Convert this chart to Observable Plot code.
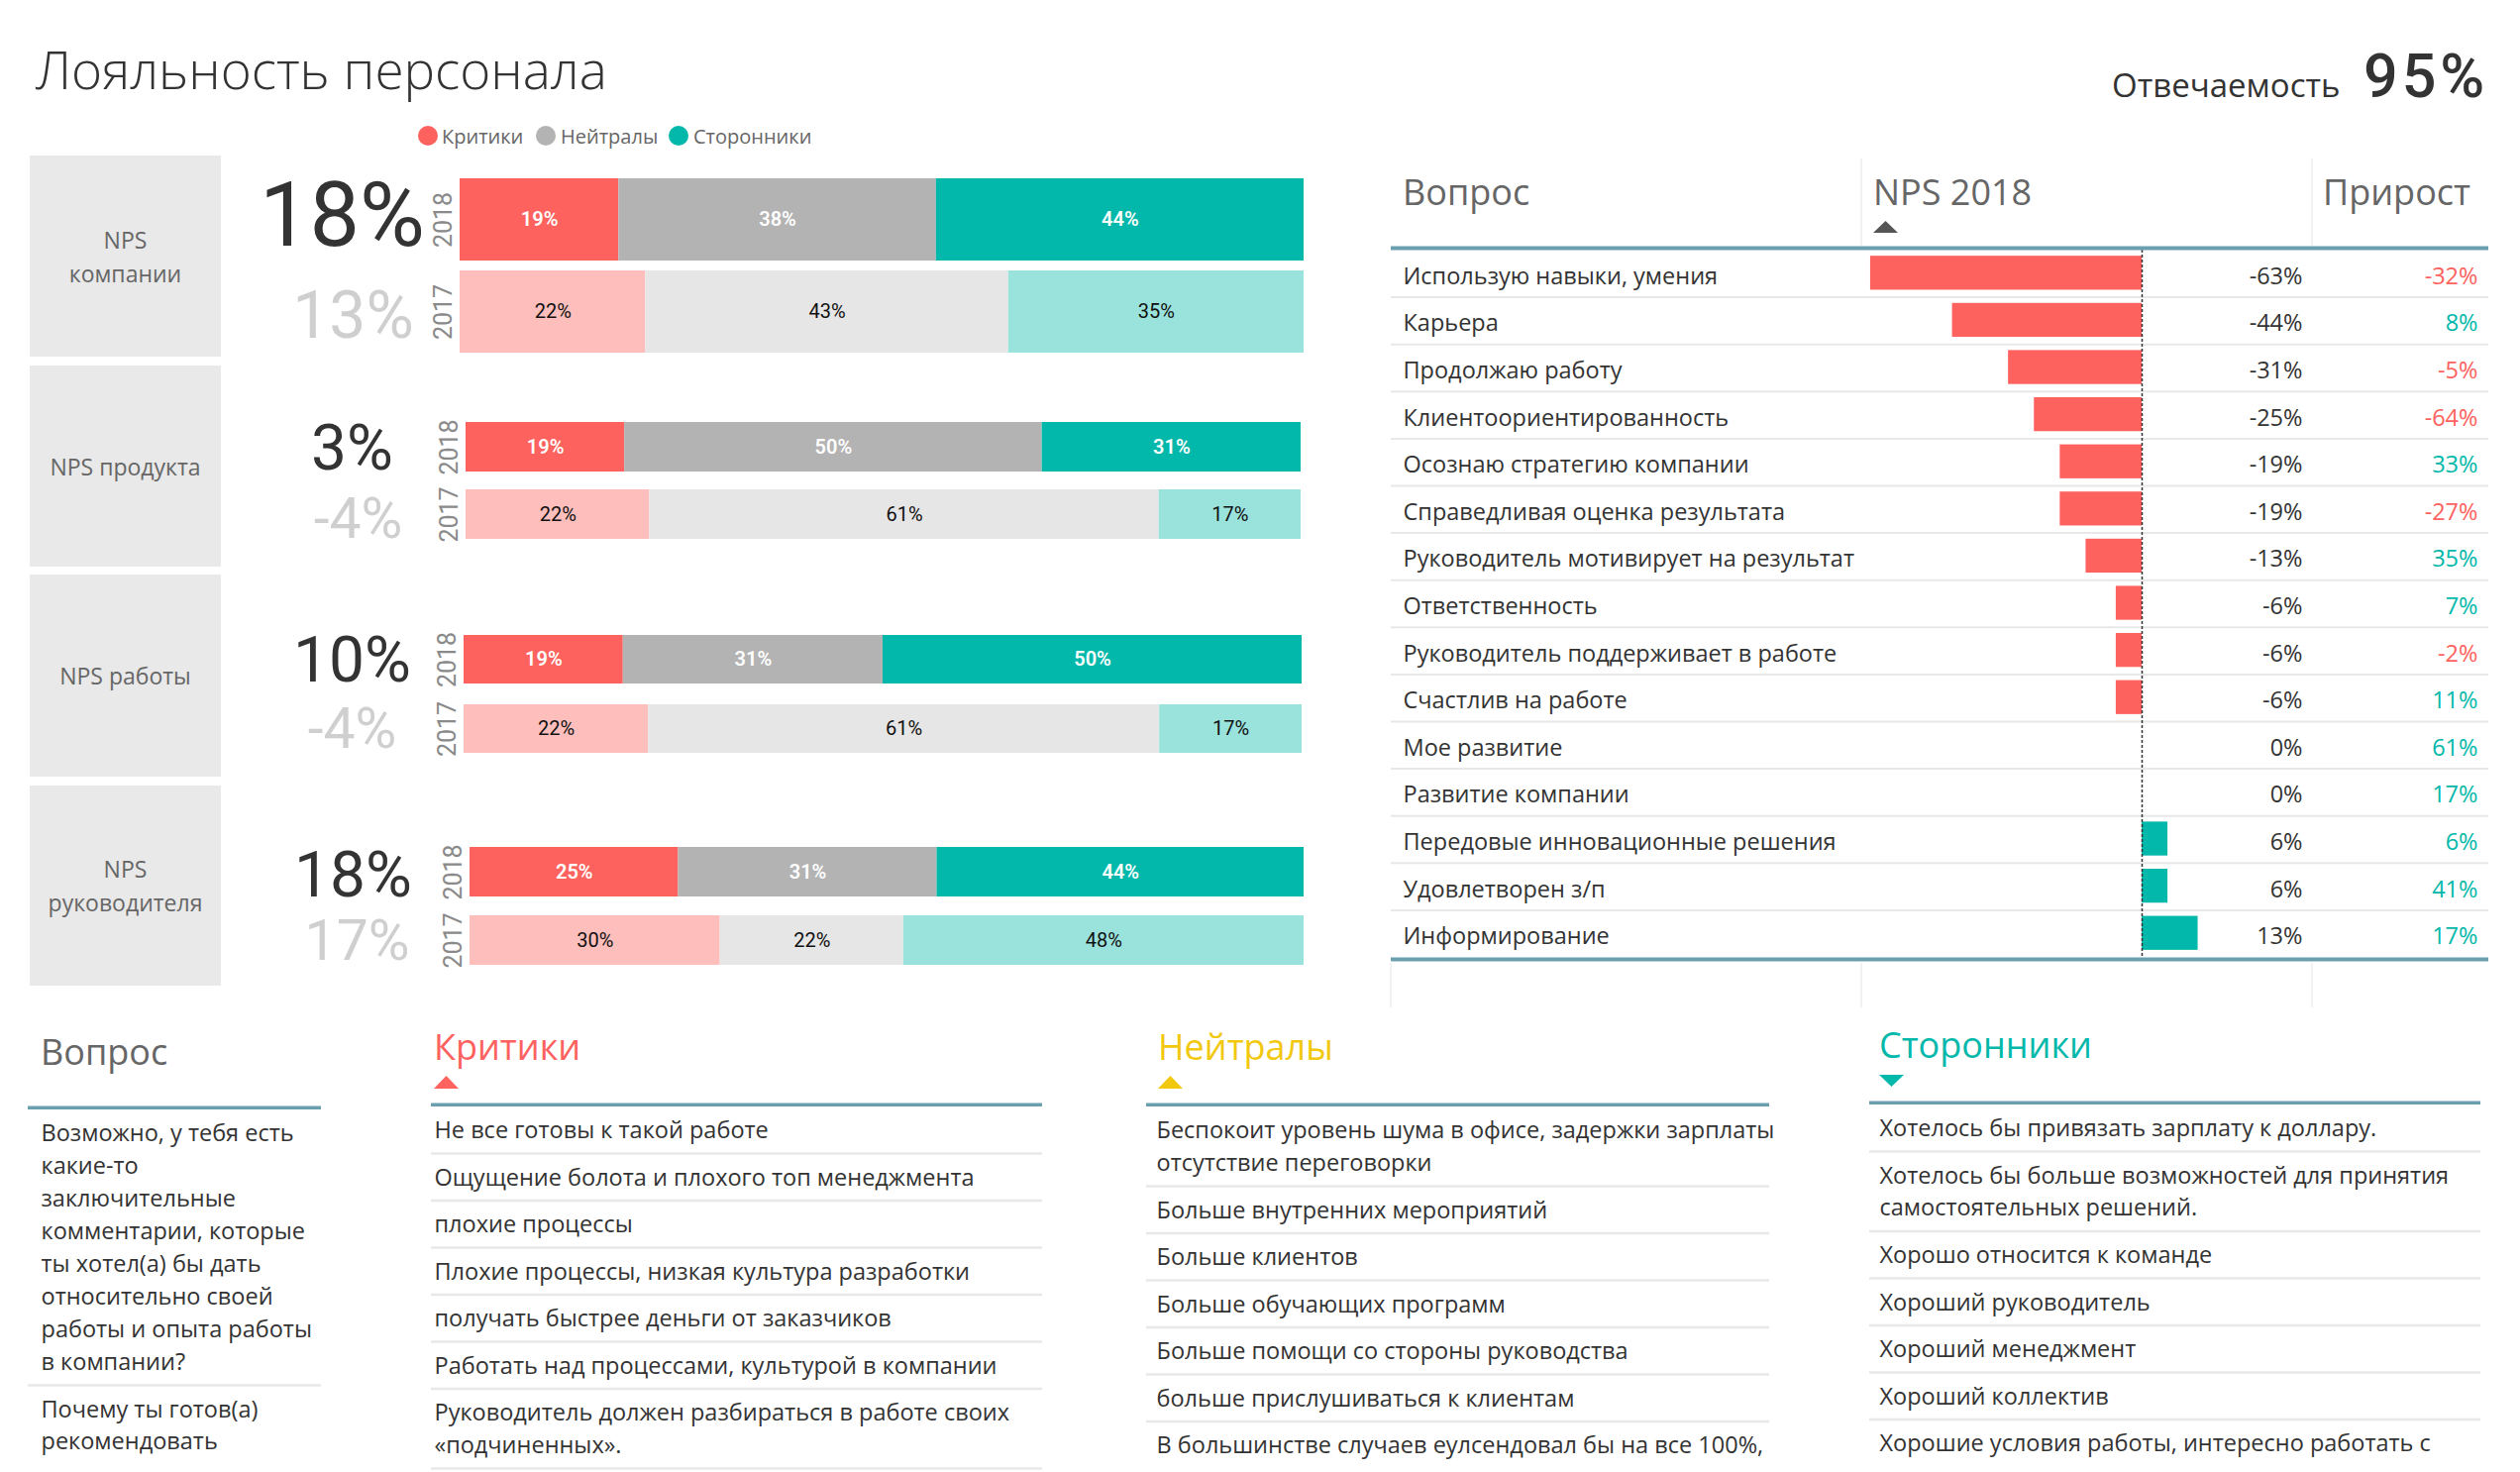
<!DOCTYPE html>
<html>
<head>
<meta charset="utf-8">
<script src="https://cdn.jsdelivr.net/npm/d3@7"></script>
<script src="https://cdn.jsdelivr.net/npm/@observablehq/plot@0.6"></script>
<style>
html, body { margin: 0; padding: 0; background: #fff; }
#page { position: relative; width: 2544px; height: 1486px; overflow: hidden; font-family: "Open Sans", sans-serif; }
.box { position: absolute; background: #e9e9e9; display: flex; align-items: center; justify-content: center; text-align: center; color: #666; font-size: 23px; line-height: 34px; white-space: pre; }
</style>
</head>
<body>
<div id="page"></div>
<script>
// ---------------- DATA ----------------
const pageTitle = "Лояльность персонала";
const responseLabel = "Отвечаемость";
const responseRate = 95;

const years = ["2018", "2017"];
const segments = ["Критики", "Нейтралы", "Сторонники"];
const colors2018 = ["#FD625E", "#B3B3B3", "#01B8AA"];
const colors2017 = ["#FEBEBC", "#E6E6E6", "#9AE3DC"];

const npsGroups = ["NPS\nкомпании", "NPS продукта", "NPS работы", "NPS\nруководителя"];
const npsTotal2018 = [18, 3, 10, 18];
const npsTotal2017 = [13, -4, -4, 17];
const shares2018 = [[19, 38, 44], [19, 50, 31], [19, 31, 50], [25, 31, 44]];
const shares2017 = [[22, 43, 35], [22, 61, 17], [22, 61, 17], [30, 22, 48]];

const tableHeaders = ["Вопрос", "NPS 2018", "Прирост"];
const questions = [
  "Использую навыки, умения", "Карьера", "Продолжаю работу", "Клиентоориентированность",
  "Осознаю стратегию компании", "Справедливая оценка результата", "Руководитель мотивирует на результат",
  "Ответственность", "Руководитель поддерживает в работе", "Счастлив на работе", "Мое развитие",
  "Развитие компании", "Передовые инновационные решения", "Удовлетворен з/п", "Информирование"
];
const npsByQuestion2018 = [-63, -44, -31, -25, -19, -19, -13, -6, -6, -6, 0, 0, 6, 6, 13];
const growthByQuestion = [-32, 8, -5, -64, 33, -27, 35, 7, -2, 11, 61, 17, 6, 41, 17];

const listHeaders = ["Вопрос", "Критики", "Нейтралы", "Сторонники"];
const commentQuestions = [
  "Возможно, у тебя есть\nкакие-то\nзаключительные\nкомментарии, которые\nты хотел(а) бы дать\nотносительно своей\nработы и опыта работы\nв компании?",
  "Почему ты готов(а)\nрекомендовать"
];
const criticsComments = [
  "Не все готовы к такой работе",
  "Ощущение болота и плохого топ менеджмента",
  "плохие процессы",
  "Плохие процессы, низкая культура разработки",
  "получать быстрее деньги от заказчиков",
  "Работать над процессами, культурой в компании",
  "Руководитель должен разбираться в работе своих\n«подчиненных».",
  ""
];
const neutralsComments = [
  "Беспокоит уровень шума в офисе, задержки зарплаты\nотсутствие переговорки",
  "Больше внутренних мероприятий",
  "Больше клиентов",
  "Больше обучающих программ",
  "Больше помощи со стороны руководства",
  "больше прислушиваться к клиентам",
  "В большинстве случаев еулсендовал бы на все 100%,"
];
const promotersComments = [
  "Хотелось бы привязать зарплату к доллару.",
  "Хотелось бы больше возможностей для принятия\nсамостоятельных решений.",
  "Хорошо относится к команде",
  "Хороший руководитель",
  "Хороший менеджмент",
  "Хороший коллектив",
  "Хорошие условия работы, интересно работать с"
];

// ---------------- LAYOUT ----------------
const page = document.getElementById("page");
function place(node, left, top) {
  node.style.position = "absolute";
  node.style.left = left + "px";
  node.style.top = top + "px";
  node.style.maxWidth = "none";
  page.appendChild(node);
  return node;
}
const FONT = "'Open Sans', sans-serif";
const NUMFONT = "Roboto, sans-serif";
const STEEL = "#6B9FB0";
const SEP = "#e8e8e8";

// static text layer
const deco = d3.create("svg").attr("width", 2544).attr("height", 1486)
  .style("position", "absolute").style("left", "0px").style("top", "0px")
  .style("font-family", FONT);
function txt(x, y, s, style) {
  const t = deco.append("text").attr("x", x).attr("y", y).text(s);
  for (const k in style) t.style(k, style[k]);
  return t;
}
txt(36, 90, pageTitle, {"font-size": "53px", "font-weight": 300, fill: "#333"});
txt(2132, 98, responseLabel, {"font-size": "33px", fill: "#333"});
txt(2386, 98, responseRate + "%", {"font-size": "61px", "font-family": NUMFONT, "font-weight": 500, "letter-spacing": "4px", fill: "#333"});

// legend
const legendX = [[432, 446], [551, 566], [685, 700]];
segments.forEach((s, k) => {
  deco.append("circle").attr("cx", legendX[k][0]).attr("cy", 137).attr("r", 10).attr("fill", colors2018[k]);
  txt(legendX[k][1], 145, s, {"font-size": "20px", fill: "#666"});
});

// table headers
const thX = [1416, 1891, 2345];
tableHeaders.forEach((h, k) => txt(thX[k], 207, h, {"font-size": "36px", fill: "#666"}));
deco.append("polygon").attr("points", "1891,235 1916,235 1903.5,223").attr("fill", "#555");
[1879, 2334].forEach(x => {
  deco.append("line").attr("x1", x).attr("x2", x).attr("y1", 160).attr("y2", 248).attr("stroke", "#eee").attr("stroke-width", 1.5);
  deco.append("line").attr("x1", x).attr("x2", x).attr("y1", 972).attr("y2", 1017).attr("stroke", "#eee").attr("stroke-width", 1.5);
});
deco.append("line").attr("x1", 1404).attr("x2", 1404).attr("y1", 972).attr("y2", 1017).attr("stroke", "#eee").attr("stroke-width", 1.5);

// bottom list headers
const listCols = [
  {left: 28, right: 324, lineTop: 1116, dx: 13, hx: 41, hy: 1075, color: "#666", tri: null},
  {left: 435, right: 1052, lineTop: 1113, dx: 3, hx: 438, hy: 1070, color: "#FD625E", tri: "up"},
  {left: 1157, right: 1786, lineTop: 1113, dx: 10, hx: 1169, hy: 1070, color: "#F2C80F", tri: "up"},
  {left: 1887, right: 2504, lineTop: 1111, dx: 10, hx: 1897, hy: 1068, color: "#01B8AA", tri: "down"}
];
listCols.forEach((c, k) => {
  txt(c.hx, c.hy, listHeaders[k], {"font-size": "36px", fill: c.color});
  if (c.tri === "up") deco.append("polygon").attr("points", `${c.hx},1099 ${c.hx + 25},1099 ${c.hx + 12.5},1086`).attr("fill", c.color);
  if (c.tri === "down") deco.append("polygon").attr("points", `${c.hx},1085 ${c.hx + 25},1085 ${c.hx + 12.5},1097`).attr("fill", c.color);
});
page.appendChild(deco.node());

// gray NPS label boxes
const boxTops = [157, 369, 580, 793];
const boxHeights = [203, 203, 204, 202];
npsGroups.forEach((g, i) => {
  const d = document.createElement("div");
  d.className = "box";
  d.style.left = "30px"; d.style.top = boxTops[i] + "px";
  d.style.width = "193px"; d.style.height = boxHeights[i] + "px";
  d.textContent = g;
  page.appendChild(d);
});

// ---------------- NPS GROUP BARS ----------------
const groupLayout = [
  {top: 157, barTop: 180, band: 83, gap: 10, left: 464, right: 1316, numX18: 345, numX17: 356, fs18: 90, fs17: 66, base18: 247, base17: 340},
  {top: 369, barTop: 426, band: 50, gap: 18, left: 470, right: 1313, numX18: 355, numX17: 361, fs18: 64, fs17: 57, base18: 473, base17: 542},
  {top: 580, barTop: 641, band: 49.5, gap: 20.5, left: 468, right: 1314, numX18: 355, numX17: 355, fs18: 64, fs17: 57, base18: 688, base17: 755},
  {top: 793, barTop: 855, band: 50, gap: 19, left: 474, right: 1316, numX18: 356, numX17: 360, fs18: 64, fs17: 57, base18: 904, base17: 968}
];
const colorDomain = [], colorRange = [];
segments.forEach((s, k) => {
  colorDomain.push(s + "|2018"); colorRange.push(colors2018[k]);
  colorDomain.push(s + "|2017"); colorRange.push(colors2017[k]);
});

npsGroups.forEach((g, i) => {
  const L = groupLayout[i];
  const W = 1340, Hh = 215;
  const rows = [];
  segments.forEach((s, k) => {
    rows.push({year: "2018", segment: s, value: shares2018[i][k]});
    rows.push({year: "2017", segment: s, value: shares2017[i][k]});
  });
  const y0 = L.barTop - L.top;
  const c18 = L.barTop + L.band / 2;
  const c17 = L.barTop + L.band + L.gap + L.band / 2;
  const plot = Plot.plot({
    width: W, height: Hh,
    marginLeft: L.left, marginRight: W - L.right, marginTop: 0, marginBottom: 0,
    style: {background: "transparent", fontFamily: NUMFONT, overflow: "visible"},
    x: {domain: [0, 1], range: [L.left, L.right], axis: null},
    y: {type: "band", domain: years, range: [y0, y0 + 2 * L.band + L.gap], paddingInner: L.gap / (L.band + L.gap), paddingOuter: 0, axis: null},
    color: {domain: colorDomain, range: colorRange},
    marks: [
      Plot.barX(rows, Plot.stackX({x: "value", y: "year", fill: d => d.segment + "|" + d.year, offset: "normalize"})),
      Plot.text(rows.filter(d => d.year === "2018"), Plot.stackX({x: "value", y: "year", text: d => d.value + "%", offset: "normalize", fill: "white", fontSize: 20, fontWeight: 600, fontFamily: NUMFONT})),
      Plot.text(rows.filter(d => d.year === "2017"), Plot.stackX({x: "value", y: "year", text: d => d.value + "%", offset: "normalize", fill: "#111", fontSize: 20, fontFamily: NUMFONT})),
      Plot.text([{year: "2018", v: npsTotal2018[i]}], {y: "year", text: d => d.v + "%", frameAnchor: "left", dx: L.numX18 - L.left, dy: L.base18 - c18, lineAnchor: "bottom", textAnchor: "middle", fontSize: L.fs18, fill: "#333", fontFamily: NUMFONT}),
      Plot.text([{year: "2017", v: npsTotal2017[i]}], {y: "year", text: d => d.v + "%", frameAnchor: "left", dx: L.numX17 - L.left, dy: L.base17 - c17, lineAnchor: "bottom", textAnchor: "middle", fontSize: L.fs17, fill: "#cfcfcf", fontFamily: NUMFONT}),
      Plot.text(years, {y: d => d, text: d => d, frameAnchor: "left", dx: -17, rotate: -90, textAnchor: "middle", lineAnchor: "middle", fontSize: 25, fill: "#8a8a8a", fontFamily: NUMFONT})
    ]
  });
  place(plot, 0, L.top);
});

// ---------------- NPS BY QUESTION TABLE ----------------
const tbl = questions.map((q, i) => ({q, i, nps: npsByQuestion2018[i], growth: growthByQuestion[i]}));
const tblLeft = 1400, tblTop = 230, tblW = 1120;
const TFS = 23.5;
const tablePlot = Plot.plot({
  width: tblW, height: 760, marginLeft: 4, marginRight: 8, marginTop: 0, marginBottom: 0,
  style: {background: "transparent", fontFamily: FONT, overflow: "visible"},
  x: {domain: [-70, 20], range: [457.5, 849], axis: null},
  y: {domain: [0, questions.length], range: [252 - tblTop, 966 - tblTop], axis: null},
  marks: [
    Plot.ruleY(d3.range(1, questions.length), {stroke: SEP, strokeWidth: 2}),
    Plot.rect(tbl.filter(d => d.nps < 0), {x1: 0, x2: "nps", y1: d => d.i + 0.13, y2: d => d.i + 0.85, fill: "#FD625E"}),
    Plot.rect(tbl.filter(d => d.nps > 0), {x1: 0, x2: "nps", y1: d => d.i + 0.13, y2: d => d.i + 0.85, fill: "#01B8AA"}),
    Plot.ruleX([0], {y1: 0, y2: questions.length, stroke: "#333", strokeWidth: 1.5, strokeDasharray: "3,2"}),
    Plot.ruleY([0], {stroke: STEEL, strokeWidth: 4, dy: -2}),
    Plot.ruleY([questions.length], {stroke: STEEL, strokeWidth: 4, dy: 2}),
    Plot.text(tbl, {y: d => d.i + 0.5, text: "q", frameAnchor: "left", dx: 12, dy: 3, textAnchor: "start", fontSize: TFS, fill: "#333", fontFamily: FONT}),
    Plot.text(tbl, {y: d => d.i + 0.5, text: d => d.nps + "%", frameAnchor: "right", dx: 2324 - (tblLeft + tblW - 8), dy: 3, textAnchor: "end", fontSize: TFS, fill: "#333", fontFamily: FONT}),
    Plot.text(tbl.filter(d => d.growth < 0), {y: d => d.i + 0.5, text: d => d.growth + "%", frameAnchor: "right", dx: 2501 - (tblLeft + tblW - 8), dy: 3, textAnchor: "end", fontSize: TFS, fill: "#FD625E", fontFamily: FONT}),
    Plot.text(tbl.filter(d => d.growth >= 0), {y: d => d.i + 0.5, text: d => d.growth + "%", frameAnchor: "right", dx: 2501 - (tblLeft + tblW - 8), dy: 3, textAnchor: "end", fontSize: TFS, fill: "#01B8AA", fontFamily: FONT})
  ]
});
place(tablePlot, tblLeft, tblTop);

// ---------------- COMMENT LISTS ----------------
const LH = 33;
function listPlot(items, c) {
  const rows = [];
  let y = 3.5;
  items.forEach((t, k) => {
    const n = t.split("\n").length;
    const h = 47.5 + LH * (n - 1);
    rows.push({t, y0: y, y1: y + h, last: k === items.length - 1});
    y += h;
  });
  const height = 1486 - c.lineTop + 4;
  const lh = LH / TFS;
  return Plot.plot({
    width: c.right - c.left, height, margin: 0,
    style: {background: "transparent", fontFamily: FONT, overflow: "visible"},
    x: {domain: [0, 1], axis: null},
    y: {domain: [0, height], range: [0, height], axis: null},
    marks: [
      Plot.ruleY([1.75], {stroke: STEEL, strokeWidth: 3.5}),
      Plot.ruleY(rows.filter(r => !r.last), {y: "y1", stroke: SEP, strokeWidth: 2.5}),
      Plot.text(rows, {y: "y0", text: "t", frameAnchor: "left", dx: c.dx, dy: 32 - 0.71 * lh * TFS, textAnchor: "start", lineAnchor: "top", lineHeight: lh, fontSize: TFS, fill: "#333", fontFamily: FONT})
    ]
  });
}
[commentQuestions, criticsComments, neutralsComments, promotersComments].forEach((items, k) => {
  const c = listCols[k];
  place(listPlot(items, c), c.left, c.lineTop);
});
</script>
</body>
</html>
